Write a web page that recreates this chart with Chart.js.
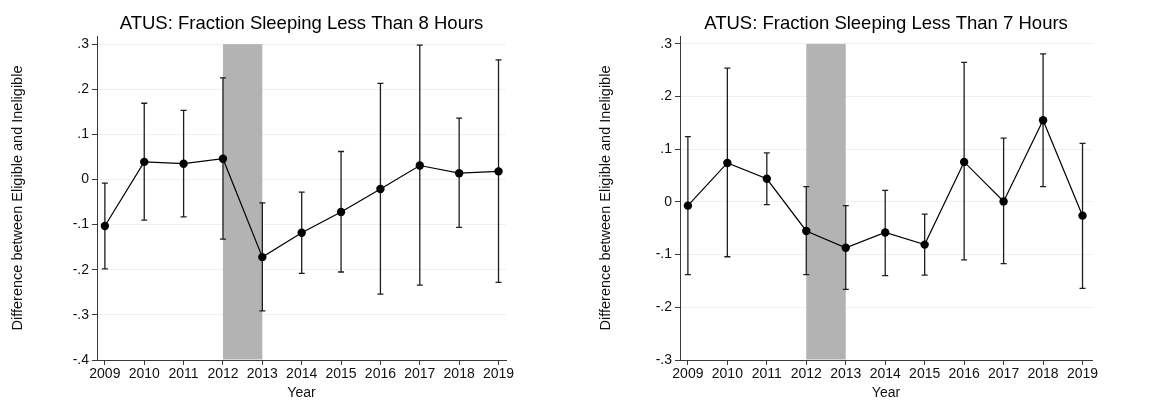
<!DOCTYPE html>
<html>
<head>
<meta charset="utf-8">
<script src="https://cdn.jsdelivr.net/npm/chart.js@4.4.1/dist/chart.umd.min.js"></script>
<style>
  body { margin: 0; background: #fff; }
  .panel { position: absolute; top: 0; height: 403px; }
  #p1 { left: 0; width: 581px; }
  #p2 { left: 580px; width: 582px; }
</style>
</head>
<body>
<div class="panel" id="p1"><canvas id="sleep8"></canvas></div>
<div class="panel" id="p2"><canvas id="sleep7"></canvas></div>
<script>
const years = [2009, 2010, 2011, 2012, 2013, 2014, 2015, 2016, 2017, 2018, 2019];

// less than 8 hours
const est8 = [-0.103, 0.039, 0.035, 0.046, -0.172, -0.118, -0.072, -0.021, 0.031, 0.014, 0.018];
const lo8  = [-0.198, -0.090, -0.083, -0.132, -0.291, -0.208, -0.205, -0.254, -0.234, -0.106, -0.228];
const hi8  = [-0.008, 0.169, 0.153, 0.225, -0.052, -0.028, 0.062, 0.213, 0.298, 0.136, 0.265];

// less than 7 hours
const est7 = [-0.007, 0.074, 0.044, -0.055, -0.087, -0.058, -0.081, 0.076, 0.001, 0.155, -0.026];
const lo7  = [-0.138, -0.104, -0.005, -0.138, -0.166, -0.140, -0.139, -0.110, -0.117, 0.029, -0.164];
const hi7  = [0.124, 0.254, 0.093, 0.029, -0.007, 0.022, -0.023, 0.265, 0.121, 0.281, 0.111];

const yTicks8 = [-0.4, -0.3, -0.2, -0.1, 0, 0.1, 0.2, 0.3];
const yTicks7 = [-0.3, -0.2, -0.1, 0, 0.1, 0.2, 0.3];
const shadeYears = [2012, 2013];

const FONT = '"Liberation Sans", Arial, Helvetica, sans-serif';
const AXIS = '#3a3a3a';

function fmt(v) {
    if (Math.abs(v) < 1e-9) return "0";
    return v.toFixed(1).replace("0.", ".");
}

// shaded band + error bars + title, all placed with the chart's scales
function extras(title, lo, hi, shadeTop) {
    return {
        id: "extras",
        beforeDatasetsDraw(chart) {
            const { ctx, chartArea, scales: { x, y } } = chart;
            ctx.save();
            const x0 = x.getPixelForValue(shadeYears[0]);
            const x1 = x.getPixelForValue(shadeYears[1]);
            const yt = y.getPixelForValue(shadeTop);
            ctx.fillStyle = "#b3b3b3";
            ctx.fillRect(x0, yt, x1 - x0, chartArea.bottom - 0.5 - yt);

            ctx.strokeStyle = "#1e1e1e";
            ctx.lineWidth = 1.3;
            years.forEach((yr, i) => {
                const px = x.getPixelForValue(yr);
                const pl = y.getPixelForValue(lo[i]);
                const ph = y.getPixelForValue(hi[i]);
                ctx.beginPath();
                ctx.moveTo(px, pl); ctx.lineTo(px, ph);
                ctx.moveTo(px - 3, pl); ctx.lineTo(px + 3, pl);
                ctx.moveTo(px - 3, ph); ctx.lineTo(px + 3, ph);
                ctx.stroke();
            });
            ctx.restore();
        },
        afterDraw(chart) {
            const { ctx, chartArea } = chart;
            ctx.save();
            ctx.font = "18.5px " + FONT;
            ctx.fillStyle = "#000";
            ctx.textAlign = "center";
            ctx.textBaseline = "alphabetic";
            ctx.fillText(title, (chartArea.left + chartArea.right) / 2, 29);
            ctx.restore();
        }
    };
}

function makeChart(id, title, est, lo, hi, yTicks, yMax, xMax, yWidth, padRight, yTitlePad) {
    new Chart(document.getElementById(id), {
        type: "line",
        data: {
            datasets: [{
                data: years.map((yr, i) => ({ x: yr, y: est[i] })),
                borderColor: "#000",
                borderWidth: 1.2,
                pointRadius: 4.2,
                pointBackgroundColor: "#000",
                pointBorderColor: "#000",
                pointBorderWidth: 0,
                tension: 0
            }]
        },
        options: {
            responsive: true,
            maintainAspectRatio: false,
            animation: false,
            layout: { padding: { top: 36, right: padRight, left: 0, bottom: 0 } },
            plugins: { legend: { display: false }, tooltip: { enabled: false } },
            scales: {
                x: {
                    type: "linear",
                    min: 2008.8,
                    max: xMax,
                    afterBuildTicks: s => { s.ticks = years.map(v => ({ value: v })); },
                    afterFit: s => { s.height = 43; },
                    grid: { drawOnChartArea: false, tickLength: 5, tickColor: AXIS, tickWidth: 1 },
                    border: { color: AXIS, width: 1 },
                    ticks: { color: "#111", font: { family: FONT, size: 14 }, padding: 1, maxRotation: 0, autoSkip: false, callback: v => String(v) },
                    title: { display: true, text: "Year", color: "#111", font: { family: FONT, size: 14 }, padding: { top: 0, bottom: 1 } }
                },
                y: {
                    min: yTicks[0],
                    max: yMax,
                    afterBuildTicks: s => { s.ticks = yTicks.map(v => ({ value: v })); },
                    afterFit: s => { s.width = yWidth; },
                    grid: { color: "#eaf2f3", lineWidth: 1, tickLength: 5, tickColor: AXIS, tickWidth: 1 },
                    border: { color: AXIS, width: 1 },
                    ticks: { color: "#111", font: { family: FONT, size: 14 }, padding: 3, callback: v => fmt(v) },
                    title: { display: true, text: "Difference between Eligible and Ineligible", color: "#111", font: { family: FONT, size: 14.5 }, padding: { top: yTitlePad, bottom: 0 } }
                }
            }
        },
        plugins: [extras(title, lo, hi, yTicks[yTicks.length - 1])]
    });
}

makeChart("sleep8", "ATUS: Fraction Sleeping Less Than 8 Hours", est8, lo8, hi8, yTicks8, 0.318, 2019.19, 97, 75, 9);
makeChart("sleep7", "ATUS: Fraction Sleeping Less Than 7 Hours", est7, lo7, hi7, yTicks7, 0.315, 2019.24, 100, 70, 17);
</script>
</body>
</html>
